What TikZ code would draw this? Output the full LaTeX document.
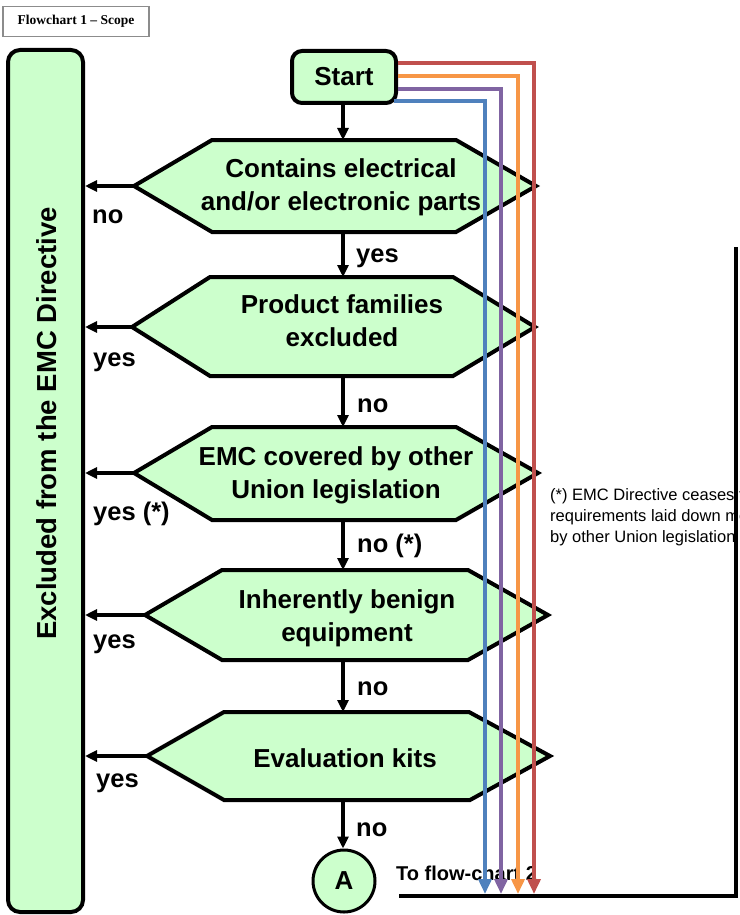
\documentclass[tikz,border=0pt]{standalone}
\usepackage{fontspec}
\setmainfont{Liberation Sans}
\newfontfamily\titlefont{Liberation Serif}
\usetikzlibrary{arrows.meta,calc}
\pgfdeclarelayer{fg}
\pgfsetlayers{main,fg}
\definecolor{boxgreen}{HTML}{CCFFCC}
\definecolor{lnred}{HTML}{C0504D}
\definecolor{lnorange}{HTML}{F79646}
\definecolor{lnpurple}{HTML}{8064A2}
\definecolor{lnblue}{HTML}{4F81BD}
\definecolor{titlegray}{HTML}{8C8C8C}
\begin{document}
\begin{tikzpicture}[x=1pt,y=-1pt,
  decision/.style={draw=black, line width=4pt, fill=boxgreen, line join=miter},
  dtext/.style={font=\fontsize{26}{33}\selectfont\bfseries, align=center, inner sep=0pt},
  lbl/.style={font=\fontsize{25.5}{30}\selectfont\bfseries, anchor=base west, inner sep=0pt},
  arr/.style={line width=3.5pt, -{Triangle[length=12pt,width=11pt]}},
  carr/.style={line width=3.6pt, -{Triangle[length=15pt,width=13pt]}},
  roundbox/.style={draw=black, line width=4pt, fill=boxgreen, inner sep=0pt}
]
\useasboundingbox (0,0) rectangle (739,915);

% title
\node[draw=titlegray, line width=1.5pt, minimum width=146pt, minimum height=30pt, inner sep=0pt,
      font=\titlefont\fontsize{13.5}{15}\selectfont\bfseries] (title) at (76,21.5) {Flowchart 1 – Scope};

% left box
\node[roundbox, rounded corners=12pt, minimum width=75pt, minimum height=862pt] (excl) at (45.5,481) {};
\node[rotate=90, font=\fontsize{27.5}{30}\selectfont\bfseries, inner sep=0pt] (excltxt) at (47,423.5) {Excluded from the EMC Directive};

% decisions
\path[decision] (134,186) -- (212,140) -- (456,140) -- (536,186) -- (456,232) -- (212,232) -- cycle;
\coordinate (d1w) at (134,186); \coordinate (d1n) at (343,140); \coordinate (d1s) at (343,232);
\node[dtext] (d1) at (341,187) {Contains electrical\\and/or electronic parts};

\path[decision] (132,327) -- (210,277) -- (453,277) -- (535,327) -- (453,376) -- (210,376) -- cycle;
\coordinate (d2w) at (132,327); \coordinate (d2n) at (343,277); \coordinate (d2s) at (343,376);
\node[dtext] (d2) at (342,320.5) {Product families\\excluded};

\path[decision] (134,473) -- (212,427) -- (456,427) -- (538,473) -- (456,520) -- (212,520) -- cycle;
\coordinate (d3w) at (134,473); \coordinate (d3n) at (343,427); \coordinate (d3s) at (343,520);
\node[dtext] (d3) at (336,475.5) {EMC covered by other\\Union legislation};

\path[decision] (145,615) -- (222,570) -- (468,570) -- (548,615) -- (468,660) -- (222,660) -- cycle;
\coordinate (d4w) at (145,615); \coordinate (d4n) at (343,570); \coordinate (d4s) at (343,660);
\node[dtext] (d4) at (347,618) {Inherently benign\\equipment};

\path[decision] (147,756) -- (224,712) -- (469,712) -- (550,756) -- (470,800) -- (224,800) -- cycle;
\coordinate (d5w) at (147,756); \coordinate (d5n) at (343,712); \coordinate (d5s) at (343,800);
\node[dtext] (d5) at (345,758) {Evaluation kits};

% connector A
\node[circle, draw=black, line width=3pt, fill=boxgreen, minimum size=62pt, inner sep=0pt,
      font=\fontsize{26}{30}\selectfont\bfseries] (ca) at (344,881) {A};

% start
\node[roundbox, rounded corners=10pt, minimum width=104pt, minimum height=52pt,
      font=\fontsize{26}{30}\selectfont\bfseries] (start) at (344,77) {Start};

% main arrows
\draw[arr] (start.south -| d1n) -- (d1n);
\draw[arr] (d1s) -- (d2n);
\draw[arr] (d2s) -- (d3n);
\draw[arr] (d3s) -- (d4n);
\draw[arr] (d4s) -- (d5n);
\draw[arr] (d5s) -- (ca.north -| d5s);

% exclusion arrows
\draw[arr] (d1w) -- (d1w -| excl.east);
\draw[arr] (d2w) -- (d2w -| excl.east);
\draw[arr] (d3w) -- (d3w -| excl.east);
\draw[arr] (d4w) -- (d4w -| excl.east);
\draw[arr] (d5w) -- (d5w -| excl.east);

% labels
\node[lbl] (l1a) at (92,223.5) {no};
\node[lbl] (l1b) at (356,262) {yes};
\node[lbl] (l2a) at (93,366) {yes};
\node[lbl] (l2b) at (357,412) {no};
\node[lbl] (l3a) at (93,520) {yes (*)};
\node[lbl] (l3b) at (357,552) {no (*)};
\node[lbl] (l4a) at (93,648) {yes};
\node[lbl] (l4b) at (357,695) {no};
\node[lbl] (l5a) at (96,787) {yes};
\node[lbl] (l5b) at (356,836) {no};

% footnote (runs under the frame line, as in the original)
\begin{scope}
\clip (540,470) rectangle (739,560);
\node[anchor=north west, align=left, inner sep=0pt, font=\fontsize{16.5}{21}\selectfont] (fn) at (550,488)
  {(*) EMC Directive ceases to apply for the\\requirements laid down more specifically\\by other Union legislation};
\end{scope}

% to flow-chart 2
\node[anchor=base west, inner sep=0pt, font=\fontsize{20}{24}\selectfont\bfseries] (tofc) at (396,880) {To flow-chart 2};

% black frame line
\coordinate (bl1) at (399,896);
\coordinate (bl2) at (736,896);
\coordinate (bl3) at (736,247);
\draw[line width=4pt] (bl1) -- (bl2) -- (bl3);

% coloured arrows
\coordinate (ered) at (534,894);
\coordinate (eorange) at (518,894);
\coordinate (epurple) at (501,894);
\coordinate (eblue) at (485,894);
\begin{pgfonlayer}{fg}
\draw[carr, lnred] ([yshift=14pt]start.east) -| (ered);
\draw[carr, lnorange] ([yshift=1pt]start.east) -| (eorange);
\draw[carr, lnpurple] ([yshift=-12pt]start.east) -| (epurple);
\draw[carr, lnblue] ([xshift=-4pt,yshift=-24pt]start.east) -| (eblue);
\end{pgfonlayer}
\end{tikzpicture}
\end{document}
